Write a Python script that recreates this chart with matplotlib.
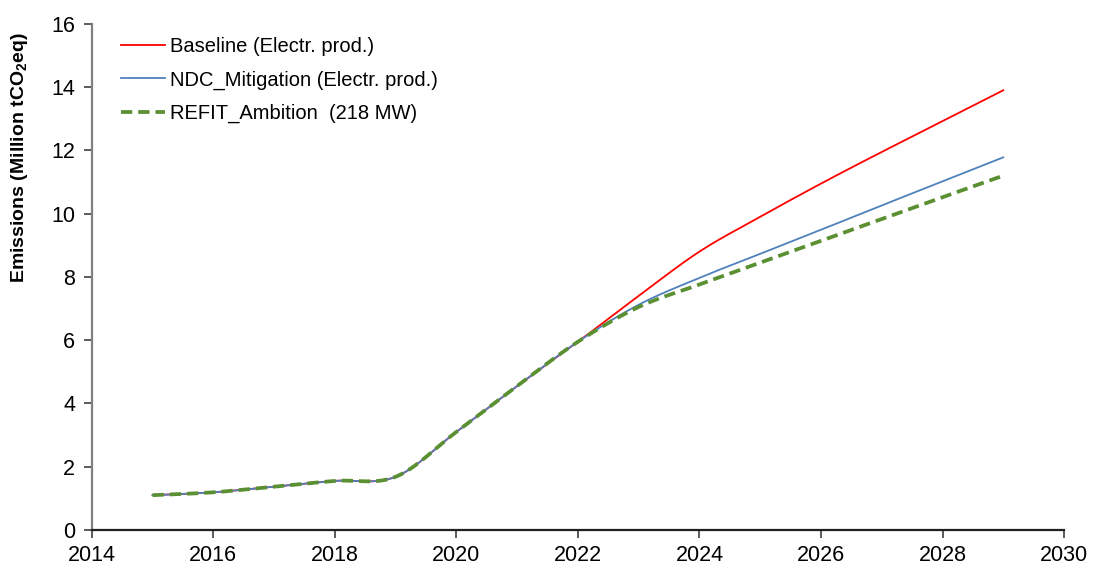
import numpy as np
import matplotlib
matplotlib.use("Agg")
import matplotlib.pyplot as plt

plt.rcParams['font.family'] = ['Liberation Sans', 'DejaVu Sans']
plt.rcParams['mathtext.fontset'] = 'custom'
plt.rcParams['mathtext.rm'] = 'Liberation Sans'
plt.rcParams['mathtext.bf'] = 'Liberation Sans:bold'

years = [2015, 2016, 2017, 2018, 2019, 2020, 2021, 2022, 2023, 2024, 2025, 2026, 2027, 2028, 2029]
baseline = [1.10, 1.19, 1.37, 1.55, 1.68, 3.10, 4.55, 5.95, 7.40, 8.80, 9.90, 10.95, 11.95, 12.92, 13.90]
ndc = [1.10, 1.19, 1.37, 1.55, 1.68, 3.10, 4.55, 5.95, 7.12, 7.97, 8.73, 9.49, 10.26, 11.02, 11.78]
refit = [1.10, 1.19, 1.37, 1.55, 1.68, 3.10, 4.55, 5.95, 7.05, 7.76, 8.45, 9.14, 9.83, 10.52, 11.20]

labels = ['Baseline (Electr. prod.)', 'NDC_Mitigation (Electr. prod.)', 'REFIT_Ambition  (218 MW)']


def smooth(x, y, n=30):
    x = np.asarray(x, float)
    y = np.asarray(y, float)
    P = np.column_stack([x, y])
    Pp = np.vstack([P[0], P, P[-1]])
    out = []
    t = np.linspace(0, 1, n)[:, None]
    for i in range(len(P) - 1):
        p0, p1, p2, p3 = Pp[i], Pp[i + 1], Pp[i + 2], Pp[i + 3]
        c1 = p1 + (p2 - p0) / 6.0
        c2 = p2 - (p3 - p1) / 6.0
        seg = ((1 - t) ** 3) * p1 + 3 * ((1 - t) ** 2) * t * c1 + 3 * (1 - t) * t ** 2 * c2 + t ** 3 * p2
        out.append(seg if i == 0 else seg[1:])
    s = np.vstack(out)
    return s[:, 0], s[:, 1]


fig = plt.figure(figsize=(10.93, 5.68), dpi=100)
ax = fig.add_axes([0.084, 0.067, 0.8895, 0.891])

xs, ys = smooth(years, baseline)
ax.plot(xs, ys, color='#FF0000', lw=1.3, label=labels[0])
xs, ys = smooth(years, ndc)
ax.plot(xs, ys, color='#4F81BD', lw=1.3, label=labels[1])
xs, ys = smooth(years, refit)
ax.plot(xs, ys, color='#5A8F32', lw=2.7, ls=(0, (3, 1.6)), label=labels[2])

ax.set_xlim(2014, 2030)
ax.set_ylim(0, 16)
ax.set_xticks(range(2014, 2031, 2))
ax.set_yticks(range(0, 17, 2))
ax.tick_params(axis='both', labelsize=15.5, direction='out', length=6, width=1.2, color='#404040')
ax.tick_params(axis='x', pad=5)
ax.tick_params(axis='y', pad=6)
for s in ['top', 'right']:
    ax.spines[s].set_visible(False)
ax.spines['left'].set_color('#808080')
ax.spines['left'].set_linewidth(1.6)
ax.spines['bottom'].set_color('#202020')
ax.spines['bottom'].set_linewidth(1.6)

ax.set_ylabel(r'Emissions (Million tCO$_\mathbf{2}$eq)', fontsize=14, fontweight='bold')
ax.yaxis.set_label_coords(-0.064, 0.735)

leg = ax.legend(loc='upper left', bbox_to_anchor=(0.011, 1.010), frameon=False, fontsize=14.5,
                handlelength=2.2, handletextpad=0.25, labelspacing=0.72)

fig.savefig('out.png', dpi=100)
